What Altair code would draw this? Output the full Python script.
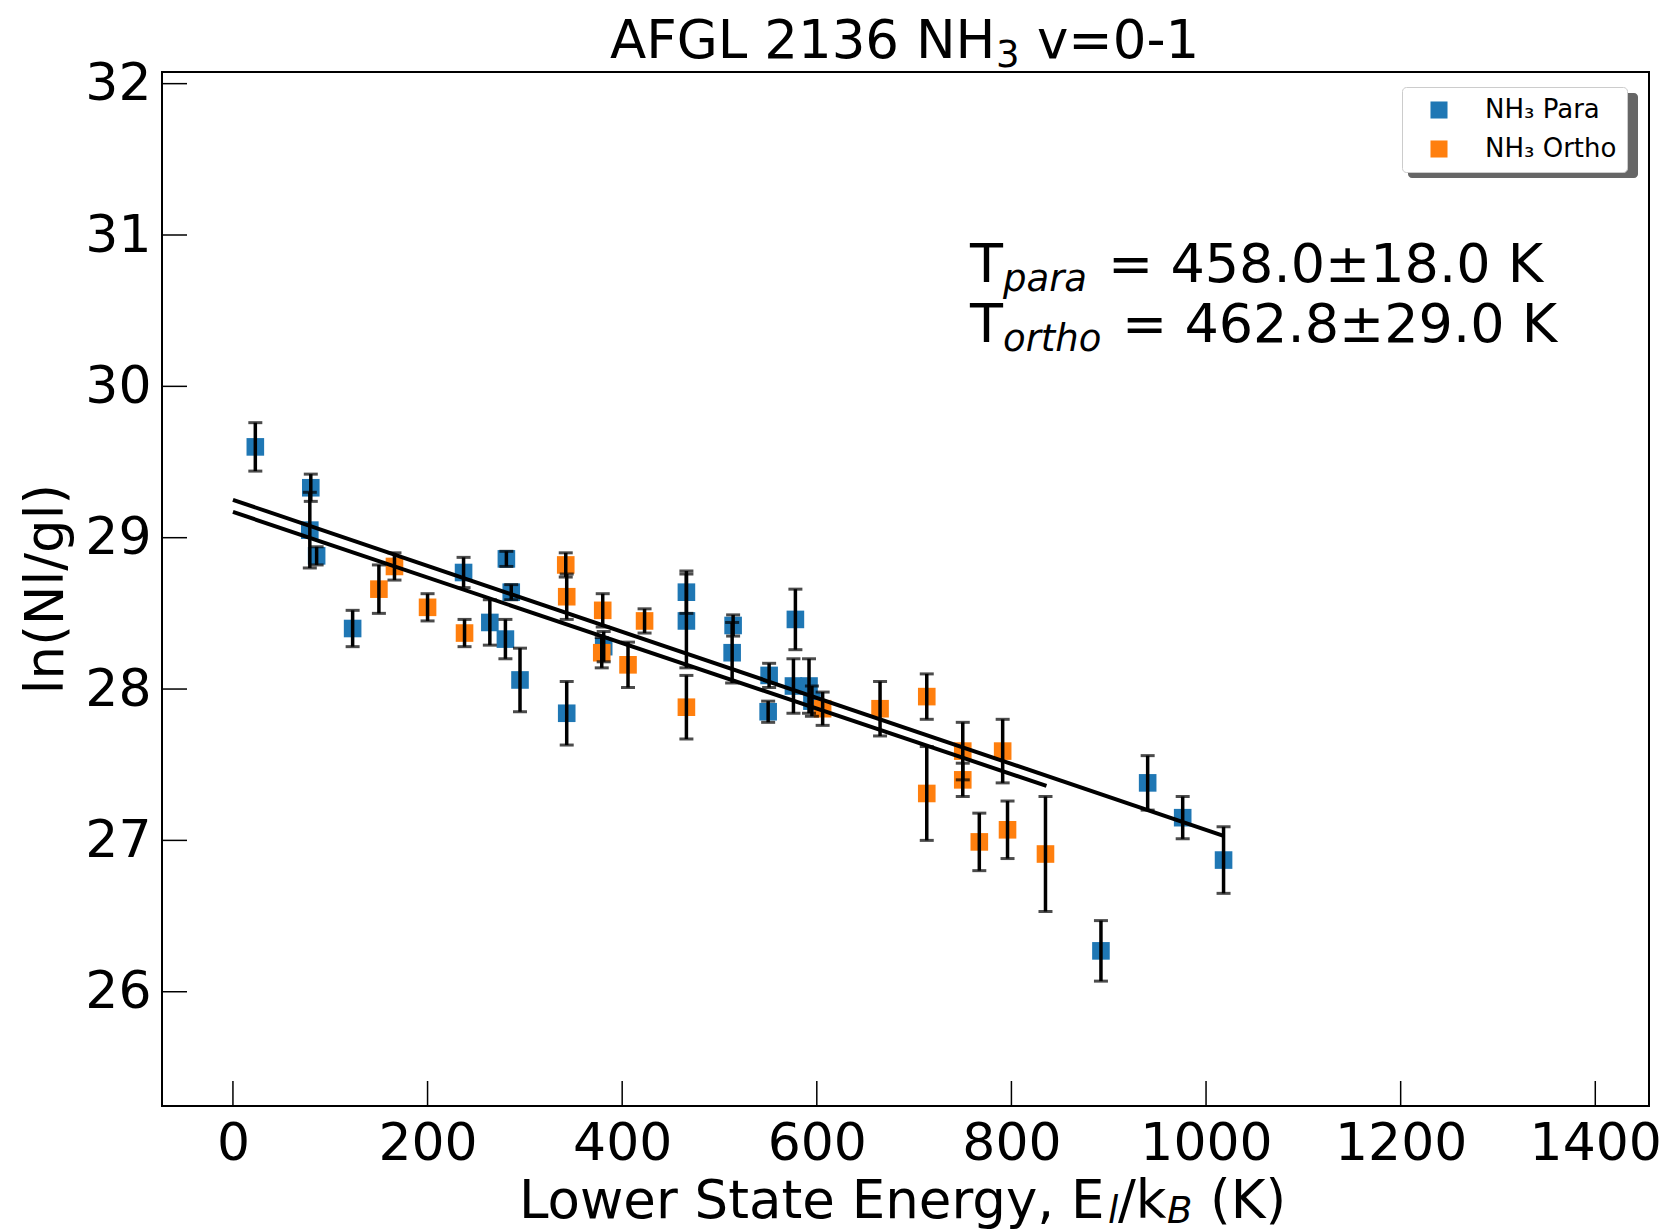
import altair as alt
import pandas as pd

# ---- data ----
para_e = [23, 80, 79, 86, 123, 237, 264, 281, 286, 280, 295, 343, 381, 466, 466,
          514, 513, 551, 550, 578, 576, 592, 595, 892, 940, 976, 1018]
para_ln = [29.60, 29.33, 29.05, 28.88, 28.40, 28.77, 28.44, 28.86, 28.64, 28.33,
           28.06, 27.84, 28.28, 28.64, 28.45, 28.42, 28.24, 28.09, 27.85, 28.46,
           28.02, 28.02, 27.92, 26.27, 27.38, 27.15, 26.87]
para_err = [0.16, 0.09, 0.25, 0.06, 0.12, 0.10, 0.15, 0.05, 0.05, 0.13, 0.21,
            0.21, 0.10, 0.14, 0.31, 0.07, 0.20, 0.08, 0.07, 0.20, 0.18, 0.18,
            0.10, 0.20, 0.18, 0.14, 0.22]

ortho_e = [150, 166, 200, 238, 342, 343, 380, 379, 406, 423, 466, 606, 665,
           713, 713, 750, 750, 791, 767, 796, 835]
ortho_ln = [28.66, 28.81, 28.54, 28.37, 28.82, 28.61, 28.52, 28.24, 28.16, 28.45,
            27.88, 27.87, 27.87, 27.95, 27.31, 27.59, 27.40, 27.59, 26.99, 27.07,
            26.91]
ortho_err = [0.16, 0.09, 0.09, 0.09, 0.08, 0.15, 0.11, 0.10, 0.15, 0.08, 0.21,
             0.11, 0.18, 0.15, 0.31, 0.19, 0.11, 0.21, 0.19, 0.19, 0.38]

fit_para_e = [0, 1018]
fit_para_ln = [29.25, 27.03]
fit_ortho_e = [0, 836]
fit_ortho_ln = [29.17, 27.36]

x_ticks = [0, 200, 400, 600, 800, 1000, 1200, 1400]
y_ticks = [26, 27, 28, 29, 30, 31, 32]

PARA = "NH₃ Para"
ORTHO = "NH₃ Ortho"
species = [PARA, ORTHO]
colors = ["#1f77b4", "#ff7f0e"]

FONT = "DejaVu Sans"
W, H = 1487, 1034

df = pd.DataFrame({
    "E": para_e + ortho_e,
    "ln": para_ln + ortho_ln,
    "err": para_err + ortho_err,
    "species": [PARA] * len(para_e) + [ORTHO] * len(ortho_e),
})
df["lo"] = df["ln"] - df["err"]
df["hi"] = df["ln"] + df["err"]

fits = pd.DataFrame({
    "E": fit_para_e + fit_ortho_e,
    "ln": fit_para_ln + fit_ortho_ln,
    "fit": ["para"] * 2 + ["ortho"] * 2,
})

xs = alt.Scale(domain=[-72.9, 1455.2], nice=False, zero=False)
ys = alt.Scale(domain=[25.245, 32.077], nice=False, zero=False)

xa = alt.Axis(values=x_ticks, format="d", title="", grid=False, domain=False, ticks=False,
              labelFontSize=52, labelFont=FONT, labelColor="black", labelPadding=12,
              labelFlush=False)
ya = alt.Axis(values=y_ticks, format="d", title="", grid=False, domain=False, ticks=False,
              labelFontSize=52, labelFont=FONT, labelColor="black", labelPadding=11)

base = alt.Chart(df)

points = base.mark_point(shape="square", filled=True, size=310, opacity=1).encode(
    x=alt.X("E:Q", scale=xs, axis=xa),
    y=alt.Y("ln:Q", scale=ys, axis=ya),
    color=alt.Color("species:N", scale=alt.Scale(domain=species, range=colors),
                    legend=alt.Legend(title=None, orient="none", legendX=1240, legendY=15,
                                      symbolType="square", symbolSize=290, symbolStrokeWidth=0,
                                      labelFontSize=26, labelFont=FONT, labelColor="black",
                                      padding=10, rowPadding=13, symbolOffset=14,
                                      labelOffset=33, fillColor="white",
                                      strokeColor="#cccccc", cornerRadius=4)),
)

bars = base.mark_rule(color="black", strokeWidth=3.5).encode(
    x=alt.X("E:Q", scale=xs, axis=xa),
    y=alt.Y("lo:Q", scale=ys, axis=ya),
    y2="hi:Q",
)
caps_lo = base.mark_tick(color="black", orient="horizontal", size=14, thickness=3).encode(
    x=alt.X("E:Q", scale=xs, axis=xa),
    y=alt.Y("lo:Q", scale=ys, axis=ya),
)
caps_hi = base.mark_tick(color="black", orient="horizontal", size=14, thickness=3).encode(
    x=alt.X("E:Q", scale=xs, axis=xa),
    y=alt.Y("hi:Q", scale=ys, axis=ya),
)

lines = alt.Chart(fits).mark_line(color="black", strokeWidth=4).encode(
    x=alt.X("E:Q", scale=xs, axis=xa),
    y=alt.Y("ln:Q", scale=ys, axis=ya),
    detail="fit:N",
)

xt = alt.Chart(pd.DataFrame({"v": x_ticks})).mark_rule(color="black", strokeWidth=1.5).encode(
    x=alt.X("v:Q", scale=xs, axis=xa),
    y=alt.value(H), y2=alt.value(H - 25),
)
yt = alt.Chart(pd.DataFrame({"v": y_ticks})).mark_rule(color="black", strokeWidth=1.5).encode(
    y=alt.Y("v:Q", scale=ys, axis=ya),
    x=alt.value(0), x2=alt.value(25),
)

one = pd.DataFrame({"a": [0]})


def txt(s, x, y, size, style="normal", angle=0, align="left", baseline="alphabetic"):
    return alt.Chart(one).mark_text(text=s, font=FONT, fontSize=size, fontStyle=style,
                                    align=align, baseline=baseline, angle=angle,
                                    color="black").encode(x=alt.value(x), y=alt.value(y))


texts = [
    # chart title
    txt("AFGL 2136 NH", 448, -14, 53),
    txt("3", 834, -5, 37),
    txt("v=0-1", 875, -14, 53),
    # annotation
    txt("T", 808, 210, 54),
    txt("para", 841, 219, 37, "italic"),
    txt("= 458.0±18.0 K", 946, 210, 54),
    txt("T", 808, 270, 54),
    txt("ortho", 841, 279, 37, "italic"),
    txt("= 462.8±29.0 K", 960, 270, 54),
    # x-axis title
    txt("Lower State Energy, E", 357, 1146, 53),
    txt("l", 946, 1151, 37, "italic"),
    txt("/k", 956, 1146, 53),
    txt("B", 1005, 1151, 37, "italic"),
    txt("(K)", 1048, 1146, 53),
    # y-axis title
    txt("ln(Nl/gl)", -115, 517, 53, angle=270, align="center", baseline="middle"),
]

shadow = alt.Chart(one).mark_rect(color="#666666", cornerRadius=4).encode(
    x=alt.value(1246), x2=alt.value(1476), y=alt.value(21), y2=alt.value(106),
)

chart = alt.layer(shadow, points, bars, caps_lo, caps_hi, lines, xt, yt, *texts).properties(
    width=W, height=H,
    padding={"left": 162, "top": 72, "right": 19, "bottom": 125},
    autosize=alt.AutoSizeParams(type="none"),
).configure(font=FONT).configure_view(stroke="black", strokeWidth=2)

chart.save("out.html", embed_options={"renderer": "svg", "actions": False})
